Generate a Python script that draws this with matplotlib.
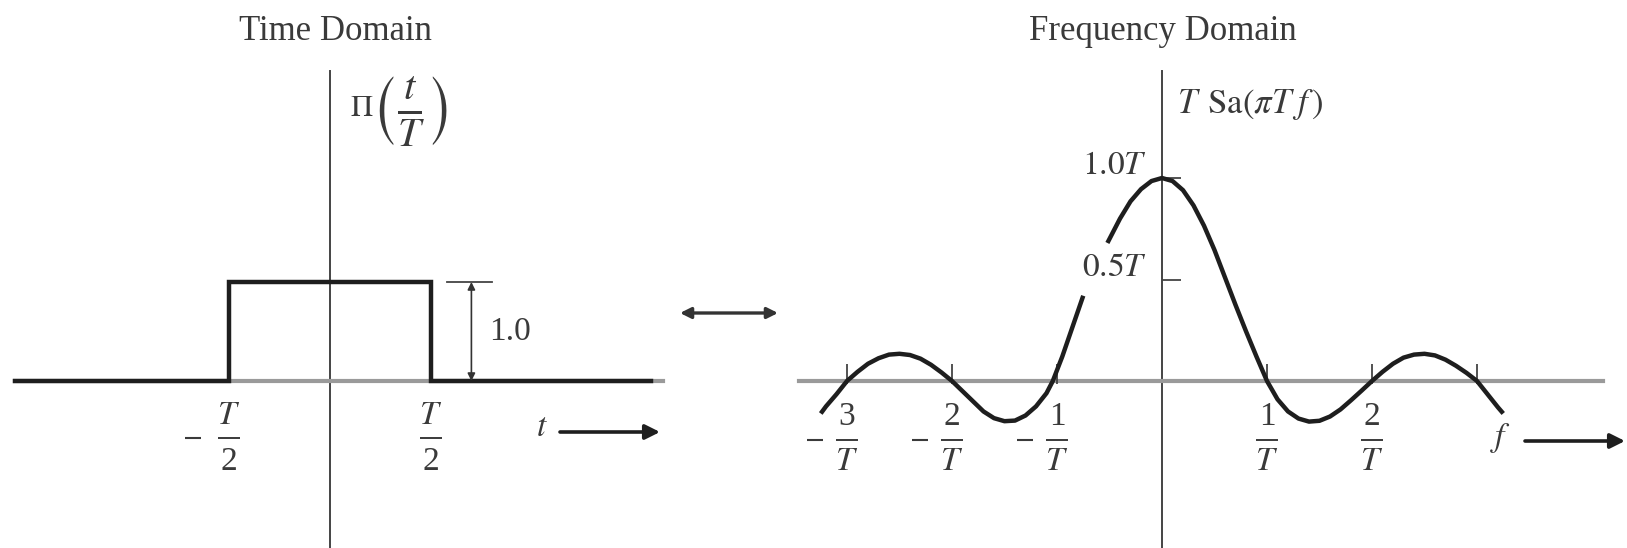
import matplotlib
matplotlib.use('Agg')
import matplotlib.pyplot as plt
from matplotlib.transforms import offset_copy

plt.rcParams['font.family'] = ['Liberation Serif', 'DejaVu Serif']
plt.rcParams['mathtext.fontset'] = 'stix'

W, H = 1627, 548
INK = '#1e1e1e'
TXT = '#3a3a3a'
AXIS = '#9a9a9a'
FS = 24

# ---- time domain: rectangular pulse (t in units of T) ----
rect_t = [-1.56, -0.5, -0.5, 0.5, 0.5, 1.59]
rect_y = [0.0, 0.0, 1.0, 1.0, 0.0, 0.0]
pulse_height = 1.0
t_edges = [-0.5, 0.5]

# ---- frequency domain: T Sa(pi T f) (f in units of 1/T, amplitude in units of T) ----
sa_f_low = [-3.25, -3.2, -3.1, -3.0, -2.9, -2.8, -2.7, -2.6, -2.5, -2.4, -2.3, -2.2, -2.1,
            -2.0, -1.9, -1.8, -1.7, -1.6, -1.5, -1.4, -1.3, -1.2, -1.1, -1.04, -0.95,
            -0.85, -0.75]
sa_y_low = [-0.16, -0.125, -0.065, 0.0, 0.045, 0.085, 0.112, 0.13, 0.134, 0.128, 0.11,
            0.08, 0.042, 0.0, -0.05, -0.10, -0.15, -0.183, -0.198, -0.195, -0.17, -0.125,
            -0.06, 0.0, 0.12, 0.27, 0.42]
sa_f_high = [-0.52, -0.45, -0.4, -0.3, -0.2, -0.1, 0.0, 0.1, 0.2, 0.3, 0.4, 0.5, 0.6, 0.7,
             0.8, 0.9, 1.0, 1.1, 1.2, 1.3, 1.4, 1.5, 1.6, 1.7, 1.8, 1.9, 2.0, 2.1, 2.2,
             2.3, 2.4, 2.5, 2.6, 2.7, 2.8, 2.9, 3.0, 3.1, 3.2, 3.25]
sa_y_high = [0.68, 0.75, 0.80, 0.885, 0.945, 0.985, 1.0, 0.985, 0.94, 0.865, 0.765, 0.645,
             0.51, 0.375, 0.245, 0.12, 0.0, -0.09, -0.15, -0.185, -0.2, -0.196, -0.175,
             -0.14, -0.095, -0.048, 0.0, 0.045, 0.085, 0.115, 0.13, 0.134, 0.126, 0.105,
             0.075, 0.04, 0.0, -0.065, -0.13, -0.16]
f_ticks = [-3, -2, -1, 1, 2, 3]
f_labels = {-3: '3', -2: '2', -1: '1', 1: '1', 2: '2'}
amp_ticks = [0.5, 1.0]
amp_labels = ['0.5T', '1.0T']


def frac(ax, x, y, num, den, size=FS, bar=22, up=14, down=32, minus=None):
    """stacked fraction anchored at a data point; offsets are in pixels"""
    fig = ax.figure
    ax.text(x, y, num, fontsize=size, ha='center', va='baseline', color=TXT,
            transform=offset_copy(ax.transData, fig, y=up, units='dots'))
    ax.text(x, y, den, fontsize=size, ha='center', va='baseline', color=TXT,
            transform=offset_copy(ax.transData, fig, y=-down, units='dots'))
    ax.plot([x], [y], color=TXT, marker='_', markersize=bar * 0.72, markeredgewidth=1.4)
    if minus is not None:
        ax.plot([x], [y], color=TXT, marker='_', markersize=11, markeredgewidth=1.5,
                transform=offset_copy(ax.transData, fig, x=-minus, units='dots'))


fig = plt.figure(figsize=(W / 100, H / 100), dpi=100)

# left panel: 202 px per T horizontally, 99 px per unit vertically, origin at (330, 381)
ax1 = fig.add_axes([0, 0, 700 / W, 1])
ax1.set_xlim((0 - 330) / 202, (700 - 330) / 202)
ax1.set_ylim((381 - H) / 99, 381 / 99)
ax1.axis('off')


def p1(px, py):
    return (px - 330) / 202, (381 - py) / 99


ax1.plot([0, 0], [(381 - H) / 99, 3.13], color='#444444', lw=1.4)
ax1.plot([-1.56, 1.65], [0, 0], color=AXIS, lw=3)
ax1.plot(rect_t, rect_y, color=INK, lw=3.2, solid_joinstyle='miter')

# height marker
ax1.plot([0.58, 0.80], [pulse_height, pulse_height], color='#444444', lw=1.3)
ax1.annotate('', xy=(0.70, 0.0), xytext=(0.70, pulse_height),
             arrowprops=dict(arrowstyle='<|-|>', lw=1.2, mutation_scale=11,
                             color='#333333', shrinkA=0, shrinkB=0))
ax1.text(0.79, 0.495, '%.1f' % pulse_height, fontsize=FS, ha='left', va='center', color=TXT)

for te in t_edges:
    frac(ax1, te, p1(0, 438)[1], '$T$', '2', minus=36 if te < 0 else None)

# Pi(t/T) label
ax1.text(*p1(362, 108), r'$\Pi$', fontsize=22, ha='center', va='center', color=TXT)
ax1.text(*p1(371, 112), r'$\left(\frac{t}{T}\right)$', fontsize=42, ha='left',
         va='center', color=TXT)

ax1.text(*p1(542, 428), r'$t$', fontsize=FS, ha='center', va='center', color=TXT)
ax1.annotate('', xy=p1(660, 432), xytext=p1(560, 432),
             arrowprops=dict(arrowstyle='-|>', lw=2.6, mutation_scale=22,
                             color=INK, shrinkA=0, shrinkB=0))

# right panel: 105 px per 1/T, 203 px per T, origin at (1162, 381)
ax2 = fig.add_axes([700 / W, 0, (W - 700) / W, 1])
ax2.set_xlim((700 - 1162) / 105, (W - 1162) / 105)
ax2.set_ylim((381 - H) / 203, 381 / 203)
ax2.axis('off')


def p2(px, py):
    return (px - 1162) / 105, (381 - py) / 203


ax2.plot([0, 0], [(381 - H) / 203, 1.527], color='#444444', lw=1.4)
ax2.plot([-3.46, 4.2], [0, 0], color=AXIS, lw=3)
ax2.vlines(f_ticks, -0.015, 0.085, color='#444444', lw=1.3)
ax2.hlines(amp_ticks, 0, 0.18, color='#444444', lw=1.3)

ax2.plot(sa_f_low, sa_y_low, color=INK, lw=3.2, solid_capstyle='butt')
ax2.plot(sa_f_high, sa_y_high, color=INK, lw=3.2, solid_capstyle='butt')

for v, lab in zip(amp_ticks, amp_labels):
    ax2.text(-0.14, v + 0.06, '$%s$' % lab, fontsize=FS, ha='right', va='center', color=TXT)

ax2.text(*p2(1177, 104), r'$T\;\,\mathrm{Sa}(\pi T\;f\,)$', fontsize=25, ha='left',
         va='center', color=TXT)

for f in f_ticks:
    if f in f_labels:
        frac(ax2, f, p2(0, 440)[1], f_labels[f], '$T$', up=15, down=30,
             minus=32 if f < 0 else None)

ax2.text(*p2(1501, 438), r'$f$', fontsize=FS, ha='center', va='center', color=TXT)
ax2.annotate('', xy=p2(1625, 441), xytext=p2(1525, 441),
             arrowprops=dict(arrowstyle='-|>', lw=2.6, mutation_scale=22,
                             color=INK, shrinkA=0, shrinkB=0))

# transform pair arrow between the panels
ax1.annotate('', xy=(680, H - 313), xytext=(778, H - 313), xycoords='figure pixels',
             textcoords='figure pixels',
             arrowprops=dict(arrowstyle='<|-|>', lw=2.4, mutation_scale=16,
                             color='#333333', shrinkA=0, shrinkB=0))

fig.text(335 / W, 1 - 31 / H, 'Time Domain', fontsize=25, ha='center', va='center', color=TXT)
fig.text(1163 / W, 1 - 31 / H, 'Frequency Domain', fontsize=25, ha='center', va='center',
         color=TXT)

fig.savefig('out.png', dpi=100)
